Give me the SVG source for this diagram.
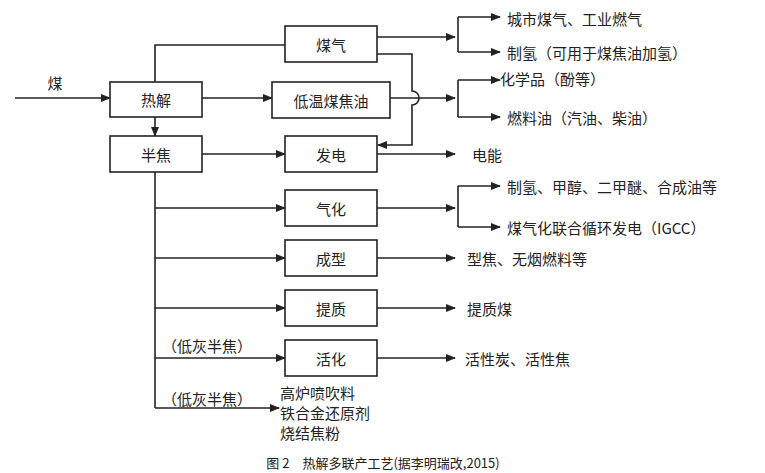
<svg xmlns="http://www.w3.org/2000/svg" width="765" height="473" viewBox="0 0 765 473">
<defs><marker id="a" markerWidth="10" markerHeight="8" refX="9" refY="4" orient="auto" markerUnits="userSpaceOnUse"><path d="M0,0 L10,4 L0,8 Z" fill="#222"/></marker></defs>
<style>
rect{fill:#fff;stroke:#222;stroke-width:1.6}
.c path,.c line{fill:none;stroke:#222;stroke-width:1.6}
.ar{marker-end:url(#a)}
text{font-family:"Noto Sans CJK SC","Liberation Sans",sans-serif;font-size:15px;fill:#222}
.m{text-anchor:middle;dominant-baseline:central}
.l{dominant-baseline:central}
</style>
<rect width="765" height="473" style="fill:#fff;stroke:none"/>
<g class="c">
<line class="ar" x1="15" y1="98" x2="110" y2="98"/>
<path d="M155,82 V45 H285"/>
<line class="ar" x1="202" y1="98" x2="272" y2="98"/>
<line class="ar" x1="155" y1="117" x2="155" y2="136"/>
<line class="ar" x1="377" y1="37" x2="455" y2="37"/>
<path d="M458,17 V52"/>
<line class="ar" x1="458" y1="17" x2="500" y2="17"/>
<line class="ar" x1="458" y1="52" x2="500" y2="52"/>
<path class="ar" d="M377,54 H412 V91 A7,7 0 0 1 412,105 V145 H378"/>
<line class="ar" x1="390" y1="98" x2="455" y2="98"/>
<path d="M458,80 V117"/>
<line class="ar" x1="458" y1="80" x2="500" y2="80"/>
<line class="ar" x1="458" y1="117" x2="500" y2="117"/>
<line class="ar" x1="202" y1="154" x2="285" y2="154"/>
<line class="ar" x1="377" y1="154" x2="455" y2="154"/>
<path d="M155,172 V408"/>
<line class="ar" x1="155" y1="208" x2="285" y2="208"/>
<line class="ar" x1="377" y1="208" x2="455" y2="208"/>
<path d="M458,186 V227"/>
<line class="ar" x1="458" y1="186" x2="500" y2="186"/>
<line class="ar" x1="458" y1="227" x2="500" y2="227"/>
<line class="ar" x1="155" y1="258" x2="285" y2="258"/>
<line class="ar" x1="377" y1="258" x2="455" y2="258"/>
<line class="ar" x1="155" y1="308" x2="285" y2="308"/>
<line class="ar" x1="377" y1="308" x2="455" y2="308"/>
<line class="ar" x1="155" y1="358" x2="285" y2="358"/>
<line class="ar" x1="377" y1="358" x2="455" y2="358"/>
<line class="ar" x1="155" y1="408" x2="279" y2="408"/>
</g>
<text x="55" y="82" class="m">煤</text>
<g id="rj"><rect x="110" y="82" width="92" height="35"/><text x="156" y="99" class="m">热解</text></g>
<g id="bj"><rect x="110" y="136" width="92" height="36"/><text x="156" y="154" class="m">半焦</text></g>
<g id="mq"><rect x="285" y="26" width="92" height="36"/><text x="331" y="44" class="m">煤气</text></g>
<g id="jy"><rect x="272" y="82" width="118" height="36"/><text x="331" y="100" class="m">低温煤焦油</text></g>
<g id="fd"><rect x="285" y="136" width="92" height="36"/><text x="331" y="154" class="m">发电</text></g>
<g id="qh"><rect x="285" y="190" width="92" height="36"/><text x="331" y="208" class="m">气化</text></g>
<g id="cx"><rect x="285" y="240" width="92" height="36"/><text x="331" y="258" class="m">成型</text></g>
<g id="tz"><rect x="285" y="290" width="92" height="36"/><text x="331" y="308" class="m">提质</text></g>
<g id="hh"><rect x="285" y="340" width="92" height="36"/><text x="331" y="358" class="m">活化</text></g>
<text x="507" y="18" class="l">城市煤气、工业燃气</text>
<text x="507" y="52" class="l">制氢（可用于煤焦油加氢）</text>
<text x="500" y="78" class="l">化学品（酚等）</text>
<text x="507" y="117" class="l">燃料油（汽油、柴油）</text>
<text x="472" y="154" class="l">电能</text>
<text x="507" y="186" class="l">制氢、甲醇、二甲醚、合成油等</text>
<text x="507" y="227" class="l">煤气化联合循环发电（IGCC）</text>
<text x="467" y="258" class="l">型焦、无烟燃料等</text>
<text x="467" y="308" class="l">提质煤</text>
<text x="465" y="358" class="l">活性炭、活性焦</text>
<text x="162" y="345" class="l">（低灰半焦）</text>
<text x="162" y="398" class="l">（低灰半焦）</text>
<text x="280" y="392" class="l">高炉喷吹料</text>
<text x="280" y="412" class="l">铁合金还原剂</text>
<text x="280" y="432" class="l">烧结焦粉</text>
<text x="383" y="462" class="m" style="font-size:13px;font-family:'Noto Sans CJK SC','Liberation Serif',serif">图 2　热解多联产工艺(据李明瑞改,2015)</text>
</svg>
